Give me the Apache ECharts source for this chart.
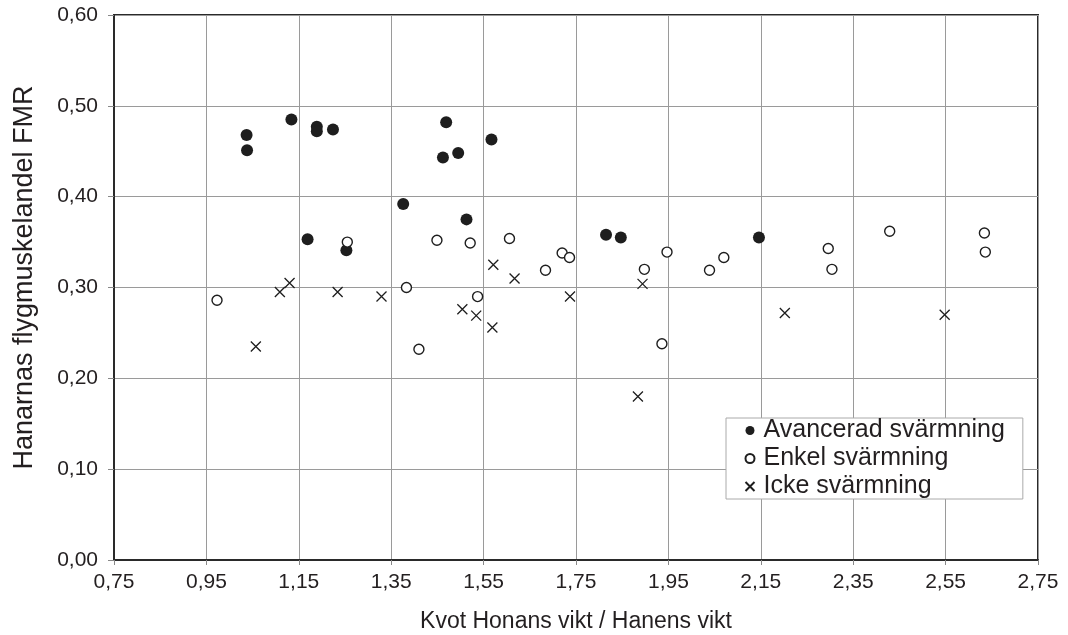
<!DOCTYPE html>
<html><head><meta charset="utf-8">
<script src="https://cdn.jsdelivr.net/npm/echarts@6/dist/echarts.min.js"></script>
<style>html,body{margin:0;padding:0;background:#fff}#c{width:1068px;height:635px}</style>
</head><body><div id="c"></div>
<script>
const seriesNames = ['Avancerad svärmning', 'Enkel svärmning', 'Icke svärmning'];
const avancerad = [
  [1.037,0.468],[1.038,0.451],[1.134,0.485],[1.189,0.477],[1.189,0.472],[1.224,0.474],
  [1.376,0.392],[1.169,0.353],[1.253,0.341],[1.469,0.482],[1.462,0.443],[1.495,0.448],
  [1.567,0.463],[1.513,0.375],[1.815,0.358],[1.847,0.355],[2.146,0.355]
];
const enkel = [
  [0.973,0.286],[1.255,0.350],[1.383,0.300],[1.449,0.352],[1.521,0.349],[1.606,0.354],
  [1.410,0.232],[1.537,0.290],[1.684,0.319],[1.720,0.338],[1.736,0.333],[1.898,0.320],
  [1.947,0.339],[1.936,0.238],[2.039,0.319],[2.070,0.333],[2.296,0.343],[2.304,0.320],
  [2.429,0.362],[2.634,0.360],[2.636,0.339]
];
const icke = [
  [1.057,0.235],[1.109,0.295],[1.130,0.305],[1.234,0.295],[1.329,0.290],[1.504,0.276],
  [1.534,0.269],[1.569,0.256],[1.571,0.325],[1.617,0.310],[1.737,0.290],[1.894,0.304],
  [1.884,0.180],[2.202,0.272],[2.548,0.270]
];
const xTicks = {min:0.75, max:2.75, step:0.2};
const yTicks = {min:0, max:0.6, step:0.1};
const xName = 'Kvot Honans vikt / Hanens vikt';
const yName = 'Hanarnas flygmuskelandel FMR';

const fmt = v => Number(v).toFixed(2).replace('.', ',');
const txt = '#231f20';
const chart = echarts.init(document.getElementById('c'));
chart.setOption({
  animation:false,
  backgroundColor:'#fff',
  textStyle:{fontFamily:'Liberation Sans, Arial, sans-serif'},
  grid:{left:114, right:30, top:15, bottom:75, show:true, borderColor:'#2a2a2a', borderWidth:2,
        backgroundColor:'transparent', containLabel:false, outerBoundsMode:'none'},
  legend:{
    orient:'vertical', left:726, top:418,
    backgroundColor:'#fff', borderColor:'#aaa', borderWidth:1,
    padding:[0,18,0,17], itemGap:3, itemWidth:9, itemHeight:9,
    textStyle:{fontSize:25, color:txt, padding:[0,0,0,4], lineHeight:25},
    data:seriesNames
  },
  xAxis:{
    type:'value', min:xTicks.min, max:xTicks.max, interval:xTicks.step,
    name:xName, nameLocation:'middle', nameGap:50,
    nameTextStyle:{fontSize:23, color:txt},
    axisLine:{show:true, lineStyle:{color:'#2a2a2a', width:2}},
    axisTick:{show:true, length:5, lineStyle:{color:'#888'}},
    axisLabel:{fontSize:21, color:txt, margin:12, formatter:fmt},
    splitLine:{show:true, lineStyle:{color:'#9a9a9a', width:1}}
  },
  yAxis:{
    type:'value', min:yTicks.min, max:yTicks.max, interval:yTicks.step,
    name:yName, nameLocation:'middle', nameGap:76, nameRotate:90,
    nameTextStyle:{fontSize:27, color:txt, padding:[0,0,0,20]},
    axisLine:{show:true, lineStyle:{color:'#2a2a2a', width:2}},
    axisTick:{show:true, length:6, lineStyle:{color:'#888'}},
    axisLabel:{fontSize:21, color:txt, margin:16, formatter:fmt},
    splitLine:{show:true, lineStyle:{color:'#9a9a9a', width:1}}
  },
  series:[
    {name:seriesNames[0], type:'scatter', data:avancerad, symbol:'circle', symbolSize:12,
     itemStyle:{color:'#1e1e1e', opacity:1}},
    {name:seriesNames[1], type:'scatter', data:enkel, symbol:'circle', symbolSize:10,
     itemStyle:{color:'#fff', borderColor:'#1e1e1e', borderWidth:1.4, opacity:1}},
    {name:seriesNames[2], type:'scatter', data:icke, symbol:'path://M0,0L10,10M10,0L0,10', symbolSize:10,
     itemStyle:{color:'none', borderColor:'#1e1e1e', borderWidth:1.3, opacity:1}}
  ]
});
</script></body></html>
